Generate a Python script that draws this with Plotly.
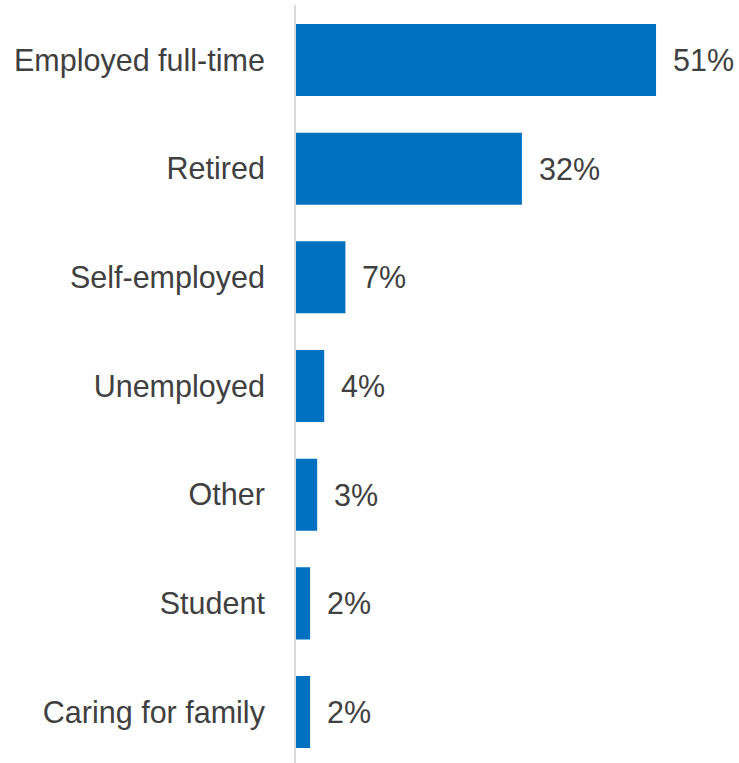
import plotly.graph_objects as go

# Employment status of respondents (share of total, %)
categories = [
    "Employed full-time",
    "Retired",
    "Self-employed",
    "Unemployed",
    "Other",
    "Student",
    "Caring for family",
]
shares = [51, 32, 7, 4, 3, 2, 2]
value_labels = [f"{v}%" for v in shares]

BAR_COLOR = "#0070c0"
TEXT_COLOR = "#404040"
FONT = "Liberation Sans, Arial, sans-serif"
FONT_SIZE = 30.5

fig = go.Figure(
    go.Bar(
        x=shares,
        y=categories,
        orientation="h",
        marker=dict(color=BAR_COLOR, line=dict(width=0)),
        width=0.663,
        hoverinfo="skip",
    )
)

# value labels placed just beyond the end of each bar
for cat, v, lab in zip(categories, shares, value_labels):
    fig.add_annotation(
        x=v, y=cat, text=lab, showarrow=False,
        xanchor="left", yanchor="middle", xshift=15,
        font=dict(family=FONT, size=FONT_SIZE, color=TEXT_COLOR),
    )

fig.update_layout(
    width=739,
    height=763,
    margin=dict(l=296, r=0, t=5, b=0),
    plot_bgcolor="white",
    paper_bgcolor="white",
    showlegend=False,
    font=dict(family=FONT, size=FONT_SIZE, color=TEXT_COLOR),
    xaxis=dict(
        range=[0, 62.75],
        visible=False,
        showgrid=False,
        zeroline=False,
    ),
    yaxis=dict(
        type="category",
        categoryorder="array",
        categoryarray=categories,
        range=[6.469, -0.506],
        showline=True,
        linecolor="#d9d9d9",
        linewidth=2,
        showgrid=False,
        zeroline=False,
        ticks="",
        ticklabelstandoff=23,
        tickfont=dict(family=FONT, size=FONT_SIZE, color=TEXT_COLOR),
    ),
)

fig.write_html("out.html")
